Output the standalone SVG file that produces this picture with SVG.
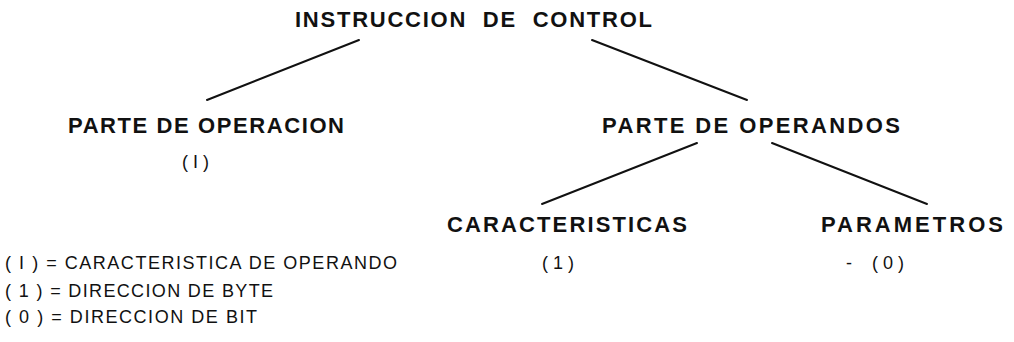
<svg xmlns="http://www.w3.org/2000/svg" width="1014" height="342" viewBox="0 0 1014 342">
<style>
.h{font-family:"Liberation Sans",Arial,sans-serif;font-weight:bold;font-size:22px;fill:#111}
.s{font-family:"Liberation Sans",Arial,sans-serif;font-size:18px;fill:#111}
.c{stroke:#111;stroke-width:2;fill:none;stroke-linecap:round}
</style>
<rect width="1014" height="342" fill="#fff"/>
<g id="connectors">
<line class="c" x1="359" y1="40" x2="207" y2="100"/>
<line class="c" x1="592" y1="40" x2="747" y2="100"/>
<line class="c" x1="697" y1="143" x2="542" y2="204"/>
<line class="c" x1="772" y1="143" x2="927" y2="204"/>
</g>
<g id="root"><text class="h" x="295" y="27" textLength="357" lengthAdjust="spacing" xml:space="preserve">INSTRUCCION  DE  CONTROL</text></g>
<g id="operacion">
<text class="h" x="68" y="133" textLength="276" lengthAdjust="spacing">PARTE DE OPERACION</text>
<text class="s" x="182" y="168" xml:space="preserve">( I )</text>
</g>
<g id="operandos"><text class="h" x="602" y="133" textLength="298" lengthAdjust="spacing">PARTE DE OPERANDOS</text></g>
<g id="caracteristicas">
<text class="h" x="447" y="232" textLength="240" lengthAdjust="spacing">CARACTERISTICAS</text>
<text class="s" x="542" y="269" xml:space="preserve">( 1 )</text>
</g>
<g id="parametros">
<text class="h" x="821" y="232" textLength="182" lengthAdjust="spacing">PARAMETROS</text>
<text class="s" x="846" y="269" xml:space="preserve">-    ( 0 )</text>
</g>
<g id="legend">
<text class="s" x="5" y="269" textLength="392" lengthAdjust="spacing">( I ) = CARACTERISTICA DE OPERANDO</text>
<text class="s" x="5" y="297" textLength="268" lengthAdjust="spacing">( 1 ) = DIRECCION DE BYTE</text>
<text class="s" x="5" y="323" textLength="252" lengthAdjust="spacing">( 0 ) = DIRECCION DE BIT</text>
</g>
</svg>
